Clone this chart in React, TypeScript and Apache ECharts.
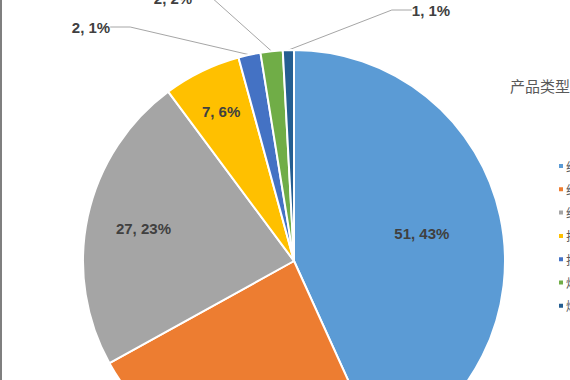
import React, { useEffect, useRef } from "react";
import * as echarts from "echarts";

const categories = ["纸巾", "纸尿裤", "纸盒", "护肤品", "护发素", "烟花", "爆竹"];
const values = [51, 28, 27, 7, 2, 2, 1];
const percents = [43, 24, 23, 6, 1, 2, 1];
const colors = ["#5B9BD5", "#ED7D31", "#A5A5A5", "#FFC000", "#4472C4", "#70AD47", "#255E91"];
const legendTitle = "产品类型";

// label placement (style): inside labels radial fraction of radius; outside labels explicit anchors
const insideRadius = [0.62, 0.65, 0.73, 0.79, null, null, null];
const outsideAnchor: ([number, number] | null)[] = [null, null, null, null, [91, 27], [173, -2], [431, 10]];

const CX = 294;
const CY = 261;
const R = 211;

export default function App() {
  const ref = useRef<HTMLDivElement>(null);
  useEffect(() => {
    if (!ref.current) return;
    const chart = echarts.init(ref.current, undefined, { renderer: "svg" });
    const total = values.reduce((a, b) => a + b, 0);
    const midAngles: number[] = [];
    let acc = 0;
    values.forEach((v) => {
      midAngles.push(((acc + v / 2) / total) * Math.PI * 2);
      acc += v;
    });
    const data = categories.map((name, i) => ({
      name,
      value: values[i],
      itemStyle: { color: colors[i] },
      label: {
        position: insideRadius[i] != null ? "inside" : "outside",
      },
      labelLine: { show: insideRadius[i] == null },
    }));
    chart.setOption({
      animation: false,
      backgroundColor: "#ffffff",
      title: {
        text: legendTitle,
        left: 510,
        top: 78,
        padding: 0,
        textStyle: {
          fontSize: 15,
          fontWeight: "normal",
          color: "#595959",
          fontFamily: "Noto Sans CJK SC",
        },
      },
      legend: {
        orient: "vertical",
        left: 557,
        top: 159,
        padding: 0,
        itemWidth: 6,
        itemHeight: 6,
        itemGap: 9.3,
        icon: "rect",
        textStyle: {
          fontSize: 12,
          lineHeight: 14,
          color: "#595959",
          fontFamily: "Noto Sans CJK SC",
          padding: [0, 0, 0, -3],
        },
        data: categories,
      },
      graphic: [
        {
          type: "rect",
          left: 0,
          top: 0,
          shape: { width: 2, height: 380 },
          style: { fill: "#7f7f7f" },
        },
      ],
      series: [
        {
          type: "pie",
          center: [CX, CY],
          radius: [0, R],
          startAngle: 90,
          clockwise: true,
          avoidLabelOverlap: false,
          itemStyle: { borderColor: "#ffffff", borderWidth: 2 },
          label: {
            show: true,
            formatter: (p: any) => `${values[p.dataIndex]}, ${percents[p.dataIndex]}%`,
            fontSize: 15,
            fontWeight: "bold",
            color: "#404040",
            fontFamily: "Liberation Sans",
          },
          labelLine: {
            show: true,
            length: 20,
            length2: 20,
            lineStyle: { color: "#A6A6A6", width: 1 },
          },
          labelLayout: (p: any) => {
            const i = p.dataIndex;
            if (insideRadius[i] != null) {
              const r = (insideRadius[i] as number) * R;
              const a = midAngles[i];
              return {
                x: CX + r * Math.sin(a),
                y: CY - r * Math.cos(a),
                align: "center",
                verticalAlign: "middle",
              };
            }
            const a = outsideAnchor[i] as [number, number];
            return { x: a[0], y: a[1], align: "center", verticalAlign: "middle" };
          },
          emphasis: { disabled: true },
          data,
        },
      ],
    });
    return () => chart.dispose();
  }, []);
  return (
    <div
      ref={ref}
      style={{ position: "absolute", left: 0, top: 0, width: 570, height: 380 }}
    />
  );
}
